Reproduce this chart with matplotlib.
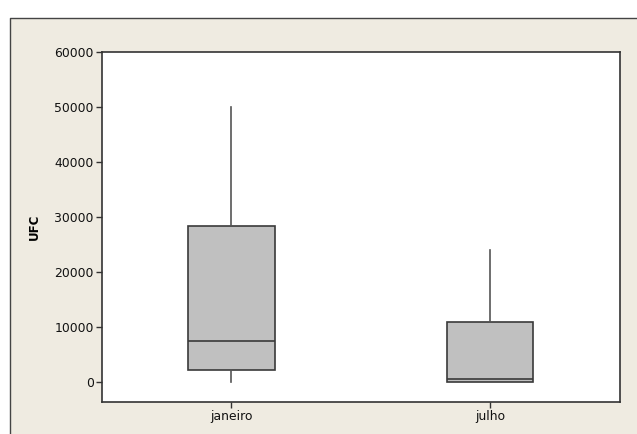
import matplotlib
matplotlib.use("Agg")
import matplotlib.pyplot as plt
from matplotlib.patches import Rectangle
from matplotlib.lines import Line2D

categories = ["janeiro", "julho"]
whisker_low = [0, 0]
q1 = [2300, 50]
median = [7550, 650]
q3 = [28400, 11000]
whisker_high = [50000, 24000]
y_ticks = [0, 10000, 20000, 30000, 40000, 50000, 60000]

W, H = 637, 434
fig = plt.figure(figsize=(W / 100, H / 100), dpi=100, facecolor="white")
bg = "#EFEBE1"
x0, y0 = 9.5 / W, 1 - 17.5 / H
fig.patches.append(Rectangle((x0, 0), 1 - x0, y0, transform=fig.transFigure,
                             facecolor=bg, edgecolor="none", zorder=-10))
fig.add_artist(Line2D([x0, x0, 1.0], [0, y0, y0], transform=fig.transFigure,
                      color="#444444", linewidth=1.0, zorder=-9))

ax = fig.add_axes([102 / W, 32 / H, (619.5 - 102) / W, (402 - 52) / H])
ax.set_zorder(5)
ax.set_facecolor("white")

stats = []
for i, c in enumerate(categories):
    stats.append(dict(label=c, whislo=whisker_low[i], q1=q1[i], med=median[i],
                      q3=q3[i], whishi=whisker_high[i], fliers=[]))

edge = "#3a3a3a"
ax.bxp(stats, positions=[1, 2], widths=0.335, showcaps=False, showfliers=False,
       patch_artist=True,
       boxprops=dict(facecolor="#C0C0C0", edgecolor=edge, linewidth=1.2),
       medianprops=dict(color=edge, linewidth=1.2),
       whiskerprops=dict(color="#555555", linewidth=1.2))

ax.set_xlim(0.5, 2.5)
ax.set_ylim(-3600, 60000)
ax.set_yticks(y_ticks)
ax.set_yticklabels([str(v) for v in y_ticks])
ax.set_xticks([1, 2])
ax.set_xticklabels(categories)
for s in ax.spines.values():
    s.set_color("#333333")
    s.set_linewidth(1.2)
ax.tick_params(axis="both", direction="out", length=4, width=1.0, color="#333333",
               labelsize=8.9, labelcolor="#111111", pad=2)
ax.set_ylabel("UFC", fontsize=8.5, fontweight="bold", labelpad=10)

fig.savefig("out.png", dpi=100, facecolor=fig.get_facecolor())
